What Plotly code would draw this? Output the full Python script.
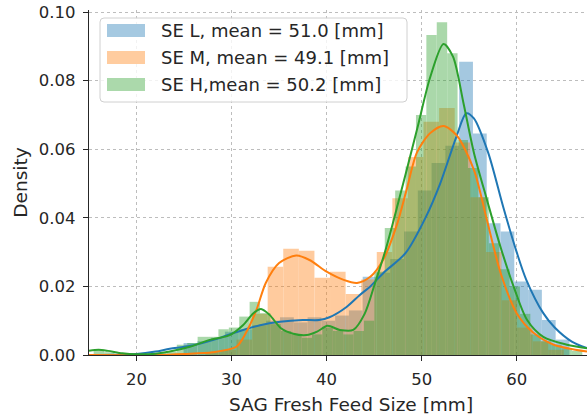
import plotly.graph_objects as go

# ---------------- data ----------------
series_names = ["SE L, mean = 51.0 [mm]", "SE M, mean = 49.1 [mm]", "SE H,mean = 50.2 [mm]"]
series_colors = ["#1f77b4", "#ff7f0e", "#2ca02c"]
legend_patch_colors = ["#a5c9e1", "#ffcc9f", "#abd9ab"]

x_title = "SAG Fresh Feed Size [mm]"
y_title = "Density"
x_ticks = [20, 30, 40, 50, 60]
y_ticks = [0.00, 0.02, 0.04, 0.06, 0.08, 0.10]

# histogram bins: first edge, bin width, density per bin
l_bin_start = 24.95
l_bin_width = 1.45
l_density = [0.0035, 0.0040, 0.0050, 0.0068, 0.0075, 0.0087, 0.0100, 0.0110,
             0.0095, 0.0110, 0.0100, 0.0115, 0.0130, 0.0228, 0.0240, 0.0280,
             0.0360, 0.0480, 0.0560, 0.0610, 0.0855, 0.0646, 0.0384, 0.0360,
             0.0214, 0.0190, 0.0102, 0.0045]

m_bin_start = 27.24
m_bin_width = 1.64
m_density = [0.0008, 0.0015, 0.0045, 0.0120, 0.0257, 0.0310, 0.0304, 0.0225,
             0.0243, 0.0178, 0.0220, 0.0300, 0.0457, 0.0577, 0.0680, 0.0720,
             0.0620, 0.0460, 0.0300, 0.0160, 0.0080, 0.0040, 0.0015]

h_bin_start = 15.49
h_bin_width = 1.094
h_density = [0.0015, 0.0008, 0.0, 0.0, 0.0, 0.0, 0.0005, 0.0010,
             0.0030, 0.0035, 0.0053, 0.0053, 0.0075, 0.0080, 0.0112, 0.0155,
             0.0122, 0.0090, 0.0070, 0.0060, 0.0050, 0.0060, 0.0080, 0.0070,
             0.0060, 0.0070, 0.0100, 0.0243, 0.0370, 0.0480, 0.0550, 0.0700,
             0.0933, 0.0970, 0.0880, 0.0627, 0.0545, 0.0460, 0.0326, 0.0250,
             0.0200, 0.0120, 0.0060, 0.0040, 0.0030, 0.0020, 0.0012]

# kde curves
l_kde_x = [15, 18, 20, 22, 23.5, 25.6, 28.8, 30.2, 33.0, 35.1, 37.5, 39.2, 40.3, 42.1,
           43.5, 44.6, 46.0, 48.3, 50.4, 51.95, 53.7, 54.7, 55.5, 57.0, 58.6, 60.0,
           61.0, 62.8, 64.0, 65.8, 67.4]
l_kde_y = [0.0, 0.0001, 0.0003, 0.0010, 0.0018, 0.0026, 0.0050, 0.0064, 0.0087, 0.0097,
           0.0102, 0.0102, 0.0110, 0.0140, 0.0175, 0.0200, 0.0240, 0.0297, 0.0400, 0.0500,
           0.0640, 0.0705, 0.0690, 0.0590, 0.0430, 0.0300, 0.0220, 0.0122, 0.0080, 0.0039,
           0.0020]

m_kde_x = [15, 22, 25, 28, 30.5, 31.5, 32.6, 33.6, 35.0, 36.8, 38.2, 40.0, 41.8, 43.2,
           44.6, 46.0, 47.4, 48.4, 49.5, 50.9, 52.3, 53.7, 55.5, 56.9, 58.3, 60.0, 61.8,
           63.9, 67.4]
m_kde_y = [0.0, 0.0, 0.0003, 0.0008, 0.0024, 0.0064, 0.0130, 0.0210, 0.0268, 0.0290,
           0.0277, 0.0243, 0.0219, 0.0210, 0.0228, 0.0280, 0.0380, 0.0480, 0.0590, 0.0647,
           0.0668, 0.0640, 0.0540, 0.0390, 0.0240, 0.0122, 0.0064, 0.0030, 0.0010]

h_kde_x = [15, 16, 17, 18.5, 20, 22, 23.5, 25.6, 27.7, 29.8, 31.2, 32.3, 33.1, 34.0,
           35.2, 36.5, 37.9, 39.0, 40.1, 41.4, 42.8, 44.0, 45.1, 46.2, 47.5, 49.5, 50.9,
           52.3, 53.3, 54.4, 55.5, 56.9, 58.3, 59.7, 61.1, 62.8, 65.3, 67.4]
h_kde_y = [0.0012, 0.0015, 0.0012, 0.0005, 0.0002, 0.0004, 0.0010, 0.0024, 0.0044, 0.0058,
           0.0087, 0.0122, 0.0134, 0.0117, 0.0078, 0.0062, 0.0058, 0.0068, 0.0085, 0.0073,
           0.0073, 0.0120, 0.0210, 0.0306, 0.0440, 0.0656, 0.0810, 0.0907, 0.0870, 0.0735,
           0.0590, 0.0450, 0.0315, 0.0198, 0.0102, 0.0053, 0.0030, 0.0020]

x_range = [15.0, 67.4]
y_range = [0.0, 0.1006]

# ---------------- figure ----------------
W, H = 587, 414
ML, MR, MT, MB = 89, 0, 10, 59
PW, PH = W - ML - MR, H - MT - MB
FONT = "DejaVu Sans"
TXT = "#262626"


def px_x(p):
    return (p - ML) / PW


def px_y(p):
    return (H - MB - p) / PH


hists = [(l_bin_start, l_bin_width, l_density),
         (m_bin_start, m_bin_width, m_density),
         (h_bin_start, h_bin_width, h_density)]
kdes = [(l_kde_x, l_kde_y), (m_kde_x, m_kde_y), (h_kde_x, h_kde_y)]

fig = go.Figure()
for (start, width, dens), (kx, ky), name, col in zip(hists, kdes, series_names, series_colors):
    centers = [start + width * (i + 0.5) for i in range(len(dens))]
    fig.add_trace(go.Bar(x=centers, y=dens, width=width, name=name,
                         marker=dict(color=col, line=dict(width=0)),
                         opacity=0.4, showlegend=False, hoverinfo="skip"))
    fig.add_trace(go.Scatter(x=kx, y=ky, mode="lines", name=name,
                             line=dict(color=col, width=2, shape="spline", smoothing=0.8),
                             showlegend=False, hoverinfo="skip"))

axis_common = dict(showline=True, linecolor=TXT, linewidth=1.25, mirror=False,
                   ticks="outside", ticklen=5, tickwidth=1.25, tickcolor=TXT,
                   showgrid=True, gridcolor="#bdbdbd", gridwidth=0.8, griddash="dot",
                   zeroline=False, automargin=False,
                   tickfont=dict(family=FONT, size=16.5, color=TXT))

fig.update_xaxes(range=x_range, tickvals=x_ticks, ticklabelstandoff=4, **axis_common)
fig.update_yaxes(range=y_range, tickvals=y_ticks, tickformat=".2f", ticklabelstandoff=4,
                 title=dict(text=y_title, font=dict(family=FONT, size=18.5, color=TXT),
                            standoff=6),
                 **axis_common)

# x-axis title (centred on the original, wider axes)
annotations = [dict(text=x_title, x=px_x(351), y=px_y(404), xref="paper", yref="paper",
                    xanchor="center", yanchor="middle", showarrow=False,
                    font=dict(family=FONT, size=18.5, color=TXT))]

# legend box
shapes = []
bl, bt, br, bb, r = 100, 18, 407, 102, 4
x0, x1 = px_x(bl), px_x(br)
y0, y1 = px_y(bb), px_y(bt)
rx, ry = r / PW, r / PH
path = (f"M {x0 + rx},{y1} L {x1 - rx},{y1} Q {x1},{y1} {x1},{y1 - ry} "
        f"L {x1},{y0 + ry} Q {x1},{y0} {x1 - rx},{y0} L {x0 + rx},{y0} "
        f"Q {x0},{y0} {x0},{y0 + ry} L {x0},{y1 - ry} Q {x0},{y1} {x0 + rx},{y1} Z")
shapes.append(dict(type="path", path=path, xref="paper", yref="paper",
                   fillcolor="rgba(255,255,255,0.8)", line=dict(color="#d0d0d0", width=1),
                   layer="above"))
row_centres = [30.5, 57.5, 84.5]
for name, pc, yc in zip(series_names, legend_patch_colors, row_centres):
    shapes.append(dict(type="rect", xref="paper", yref="paper",
                       x0=px_x(107), x1=px_x(145), y0=px_y(yc + 6.5), y1=px_y(yc - 6.5),
                       fillcolor=pc, line=dict(width=0), layer="above"))
    annotations.append(dict(text=name, x=px_x(159), y=px_y(yc), xref="paper", yref="paper",
                            xanchor="left", yanchor="middle", showarrow=False,
                            font=dict(family=FONT, size=18, color=TXT)))

fig.update_layout(width=W, height=H, margin=dict(l=ML, r=MR, t=MT, b=MB, autoexpand=False),
                  paper_bgcolor="white", plot_bgcolor="white", barmode="overlay",
                  showlegend=False, shapes=shapes, annotations=annotations,
                  font=dict(family=FONT, color=TXT))

fig.write_html("out.html", config={"displayModeBar": False},
               post_script="document.body.style.margin='0';document.body.style.padding='0';")
